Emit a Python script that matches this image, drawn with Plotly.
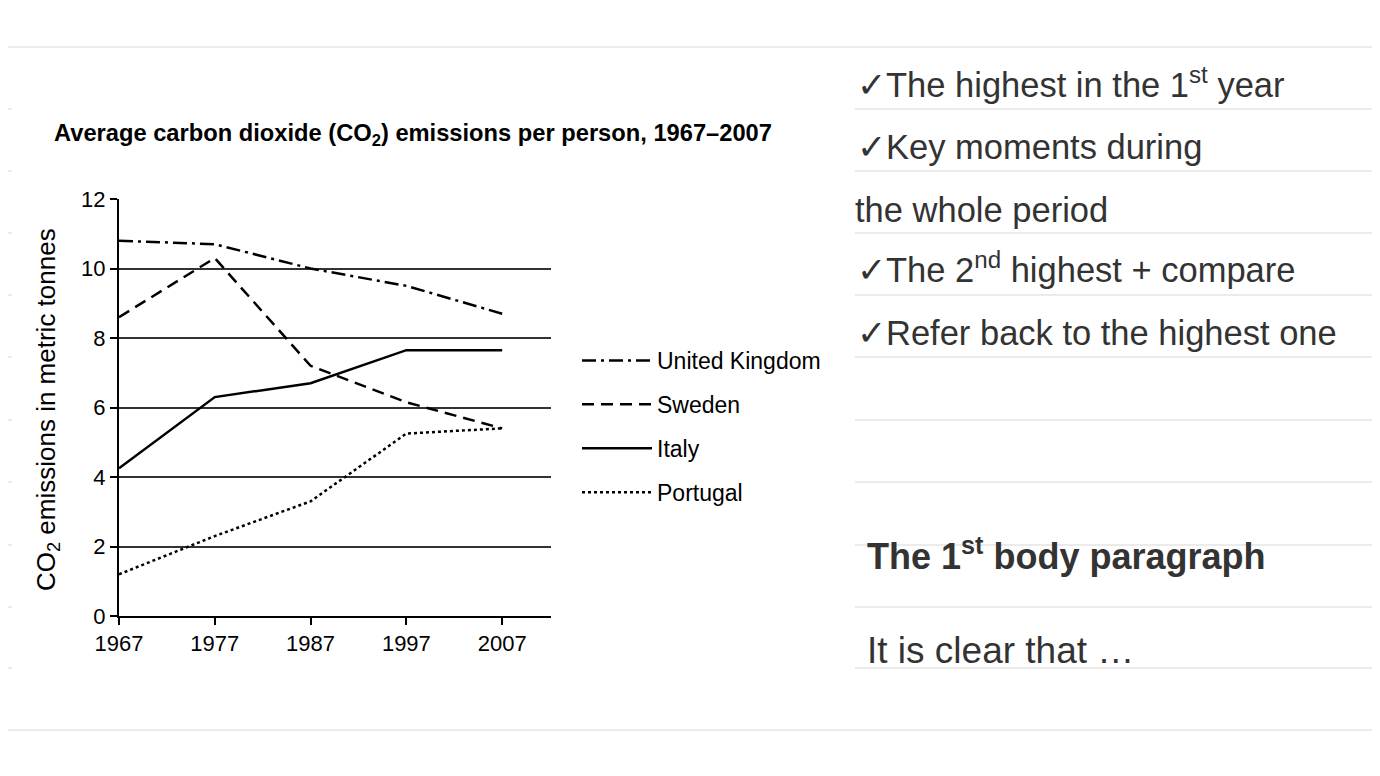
import plotly.graph_objects as go

years = [1967, 1977, 1987, 1997, 2007]
countries = ['United Kingdom', 'Sweden', 'Italy', 'Portugal']
uk = [10.8, 10.7, 10.0, 9.5, 8.7]
sweden = [8.6, 10.3, 7.2, 6.15, 5.4]
italy = [4.25, 6.3, 6.7, 7.65, 7.65]
portugal = [1.2, 2.3, 3.3, 5.25, 5.4]
y_ticks = [0, 2, 4, 6, 8, 10, 12]

W, H = 1380, 776
OFF = 8  # page body margin
px = lambda x: (x - OFF) / W
py = lambda y: 1 - (y - OFF) / H

fig = go.Figure()
styles = {
    'United Kingdom': '14px,5px,3px,5px',
    'Sweden': '12px,7px',
    'Italy': 'solid',
    'Portugal': '3px,3px',
}
for name, vals in zip(countries, [uk, sweden, italy, portugal]):
    fig.add_trace(go.Scatter(x=years, y=vals, mode='lines', name=name, legendgroup=name,
                             line=dict(color='black', width=2.5, dash=styles[name])))

# faint notebook lines behind the slide
shapes = []
for y in [47, 730]:
    shapes.append(dict(type='line', xref='paper', yref='paper', x0=0, x1=1, y0=py(y), y1=py(y),
                       line=dict(color='#ebebeb', width=2), layer='below'))
for y in [109, 171, 233, 295, 357, 420, 482, 545, 607, 668]:
    shapes.append(dict(type='line', xref='paper', yref='paper', x0=px(855), x1=1, y0=py(y), y1=py(y),
                       line=dict(color='#ebebeb', width=2), layer='below'))
    shapes.append(dict(type='line', xref='paper', yref='paper', x0=0, x1=px(12), y0=py(y), y1=py(y),
                       line=dict(color='#ebebeb', width=2), layer='below'))

# text, left x, middle y, size
notes = [
    ('\u2713The highest in the 1<sup>st</sup> year', 855, 82, 34.5),
    ('\u2713Key moments during', 855, 147, 34.5),
    ('the whole period', 853, 210, 34.5),
    ('\u2713The 2<sup>nd</sup> highest + compare', 855, 268, 34.5),
    ('\u2713Refer back to the highest one', 855, 333, 34.5),
    ('<b>The 1<sup>st</sup> body paragraph</b>', 865, 554, 36),
    ('It is clear that \u2026', 865, 650, 37),
]
annotations = [
    dict(text='<b>Average carbon dioxide (CO<sub>2</sub>) emissions per person, 1967\u20132007</b>',
         xref='paper', yref='paper', x=px(52), y=py(135), xanchor='left', yanchor='middle',
         showarrow=False, font=dict(size=23.7, color='black', family='Liberation Sans, Arial')),
    dict(text='CO<sub>2</sub> emissions in metric tonnes', textangle=-90,
         xref='paper', yref='paper', x=px(47), y=py(410), xanchor='center', yanchor='middle',
         showarrow=False, font=dict(size=26, color='black', family='Liberation Sans, Arial')),
]
for txt, x, y, s in notes:
    annotations.append(dict(text=txt, xref='paper', yref='paper', x=px(x), y=py(y),
                            xanchor='left', yanchor='middle', showarrow=False,
                            font=dict(size=s, color='#333333', family='Liberation Sans, Arial')))

fig.update_layout(
    width=W, height=H,
    margin=dict(l=0, r=0, t=0, b=0, autoexpand=False),
    paper_bgcolor='white', plot_bgcolor='white',
    font=dict(family='Liberation Sans, Arial', color='black'),
    xaxis=dict(domain=[px(119), px(551)], range=[1967, 2012.1], tickvals=years, automargin=False,
               showgrid=False, zeroline=False, showline=True, linecolor='black', linewidth=2,
               ticks='outside', ticklen=7, tickwidth=2, tickcolor='black',
               tickfont=dict(size=22, color='black')),
    yaxis=dict(domain=[py(616), py(199)], range=[0, 12], tickvals=y_ticks, automargin=False,
               showgrid=True, gridcolor='#333333', gridwidth=1.7, zeroline=False,
               showline=True, linecolor='black', linewidth=2,
               ticks='outside', ticklen=7, tickwidth=2, tickcolor='black',
               tickfont=dict(size=22, color='black')),
    legend=dict(x=px(577), y=py(339), xanchor='left', yanchor='top', tracegroupgap=11, itemwidth=70,
                font=dict(size=23, color='black'), bgcolor='rgba(0,0,0,0)'),
    shapes=shapes,
    annotations=annotations,
)

fig.write_html("out.html")
